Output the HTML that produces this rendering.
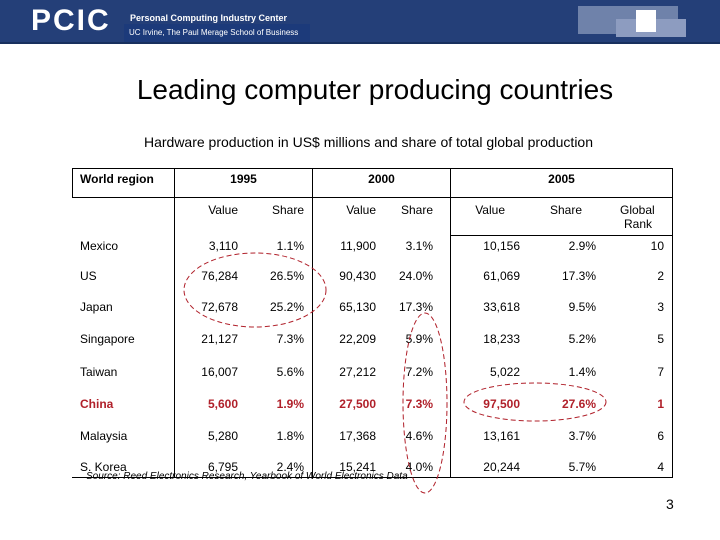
<!DOCTYPE html>
<html><head><meta charset="utf-8"><style>
body{margin:0;width:720px;height:540px;background:#fff;position:relative;overflow:hidden;font-family:"Liberation Sans",Arial,sans-serif;}
.a{position:absolute;white-space:nowrap;}
.c{font-size:12px;color:#000;}
.r{text-align:right;}
.red{color:#b0202a;font-weight:bold;}
.ln{position:absolute;background:#000;}
</style></head><body>
<div class="a" style="left:0;top:0;width:720px;height:43px;background:#243f78;"></div>
<div class="a" style="left:0;top:42px;width:720px;height:2px;background:#18305e;"></div>
<div class="a" style="left:31px;top:4px;font-size:30px;font-weight:bold;color:#fff;letter-spacing:2px;">PCIC</div>
<div class="a" style="left:130px;top:13px;font-size:9px;font-weight:bold;color:#fff;">Personal Computing Industry Center</div>
<div class="a" style="left:124px;top:24px;width:186px;height:18px;background:#1c3a7a;color:#fff;font-size:8px;line-height:18px;padding-left:5px;box-sizing:border-box;">UC Irvine, The Paul Merage School of Business</div>
<div class="a" style="left:578px;top:6px;width:100px;height:28px;background:#6f82aa;"></div>
<div class="a" style="left:616px;top:19px;width:70px;height:18px;background:#8d9cc0;"></div>
<div class="a" style="left:636px;top:10px;width:20px;height:22px;background:#fff;"></div>

<div class="a" style="left:0;width:750px;top:74px;text-align:center;font-size:28px;color:#000;">Leading computer producing countries</div>
<div class="a" style="left:0;width:737px;top:134px;text-align:center;font-size:14px;color:#000;">Hardware production in US$ millions and share of total global production</div>

<div class="ln" style="left:72px;top:168px;width:601px;height:1px;"></div>
<div class="ln" style="left:72px;top:168px;width:1px;height:29px;"></div>
<div class="ln" style="left:672px;top:168px;width:1px;height:310px;"></div>
<div class="ln" style="left:72px;top:477px;width:601px;height:1px;"></div>
<div class="ln" style="left:72px;top:197px;width:601px;height:1px;"></div>
<div class="ln" style="left:450px;top:235px;width:223px;height:1px;"></div>
<div class="ln" style="left:174px;top:168px;width:1px;height:310px;"></div>
<div class="ln" style="left:312px;top:168px;width:1px;height:310px;"></div>
<div class="ln" style="left:450px;top:168px;width:1px;height:310px;"></div>

<div class="a c" style="left:80px;top:172px;font-weight:bold;">World region</div>
<div class="a c" style="left:175px;width:137px;top:172px;text-align:center;font-weight:bold;">1995</div>
<div class="a c" style="left:313px;width:137px;top:172px;text-align:center;font-weight:bold;">2000</div>
<div class="a c" style="left:451px;width:221px;top:172px;text-align:center;font-weight:bold;">2005</div>
<div id="tbl"></div>
<div class="a c" style="left:86px;top:471px;font-size:10px;font-style:italic;">Source: Reed Electronics Research, Yearbook of World Electronics Data</div>
<div class="a" style="left:666px;top:496px;font-size:14px;">3</div>

<svg class="a" style="left:0;top:0;" width="720" height="540">
<ellipse cx="255" cy="290" rx="71" ry="37" fill="none" stroke="#b0202a" stroke-width="1" stroke-dasharray="5,3"/>
<ellipse cx="425" cy="403" rx="22" ry="90" fill="none" stroke="#b0202a" stroke-width="1" stroke-dasharray="5,3"/>
<ellipse cx="535" cy="402" rx="71" ry="19" fill="none" stroke="#b0202a" stroke-width="1" stroke-dasharray="5,3"/>
</svg>
<script>
const countries=["Mexico","US","Japan","Singapore","Taiwan","China","Malaysia","S. Korea"];
const v1995=["3,110","76,284","72,678","21,127","16,007","5,600","5,280","6,795"];
const s1995=["1.1%","26.5%","25.2%","7.3%","5.6%","1.9%","1.8%","2.4%"];
const v2000=["11,900","90,430","65,130","22,209","27,212","27,500","17,368","15,241"];
const s2000=["3.1%","24.0%","17.3%","5.9%","7.2%","7.3%","4.6%","4.0%"];
const v2005=["10,156","61,069","33,618","18,233","5,022","97,500","13,161","20,244"];
const s2005=["2.9%","17.3%","9.5%","5.2%","1.4%","27.6%","3.7%","5.7%"];
const rank2005=["10","2","3","5","7","1","6","4"];
const rowY=[246,276,307,339,372,404,436,467];
const t=document.getElementById('tbl');
function cell(txt,x,y,right,cls,name){
  const d=document.createElement('div');
  d.className='a c'+(cls?' '+cls:'');
  d.textContent=txt;
  if(right){d.style.left=(x-100)+'px';d.style.width='100px';d.style.textAlign='right';}
  else d.style.left=x+'px';
  d.style.top=(y-7)+'px';
  
  
  t.appendChild(d);
}
const heads=[["Value",238],["Share",304],["Value",376],["Share",433],["Value",505],["Share",582]];
heads.forEach(h=>cell(h[0],h[1],210,true,'','column-header'));
cell("Global",620,210,false,'','column-header');
cell("Rank",624,224,false,'','column-header');
countries.forEach((c,i)=>{
  const y=rowY[i];const cls=c==="China"?'red':'';
  cell(c,80,y,false,cls,'country-label');
  cell(v1995[i],238,y,true,cls,'value-1995');
  cell(s1995[i],304,y,true,cls,'share-1995');
  cell(v2000[i],376,y,true,cls,'value-2000');
  cell(s2000[i],433,y,true,cls,'share-2000');
  cell(v2005[i],520,y,true,cls,'value-2005');
  cell(s2005[i],596,y,true,cls,'share-2005');
  cell(rank2005[i],664,y,true,cls,'rank-2005');
});
</script>
</body></html>
